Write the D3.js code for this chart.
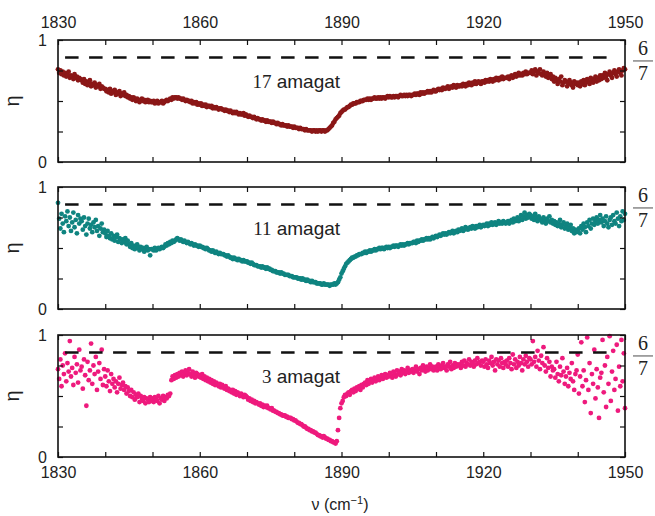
<!DOCTYPE html>
<html>
<head>
<meta charset="utf-8">
<script src="https://cdn.jsdelivr.net/npm/d3@7"></script>
<style>
  body { margin: 0; background: #fff; }
  svg { display: block; }
  .tick text { font-family: "Liberation Sans", Arial, sans-serif; font-size: 16px; fill: #222; }
  .domain { display: none; }
  .tick line { stroke: #111; stroke-width: 1.2; }
</style>
</head>
<body>
<svg width="655" height="516"></svg>
<script>
// spectra sampled every 0.25 cm-1 from 1830 to 1950, eta in hundredths
var nuStart = 1830, nuStep = 0.25;
var xTicks = [1830, 1860, 1890, 1920, 1950];
var yTicks = [0, 0.25, 0.5, 0.75, 1];
var plateau = 6 / 7;
var panelLabels = ["17", "11", "3"];
var panelColors = ["#8b1717", "#0f8480", "#ee1a7d"];

var eta17 = [
  76,73,75,72,74,71,73,70,72,74,69,71,70,68,72,69,70,67,69,68,
  67,65,68,64,66,63,65,67,62,64,63,65,61,63,62,64,60,62,61,60,
  60,58,59,57,60,56,58,57,59,55,57,56,58,54,56,55,57,54,55,53,
  54,52,53,51,53,52,50,52,51,49,51,52,50,51,49,50,51,49,50,49,
  49,50,48,49,50,48,49,49,50,48,49,50,51,50,51,52,51,53,52,53,
  53,52,53,52,52,51,52,51,50,51,50,50,49,50,48,49,48,49,47,48,
  47,48,46,47,46,47,45,46,46,45,46,44,45,44,45,44,43,44,44,43,
  43,42,43,42,42,41,42,41,40,41,40,41,40,39,40,39,39,40,38,39,
  38,37,38,37,37,36,37,36,35,36,35,35,34,35,34,34,33,34,33,33,
  33,32,33,32,32,31,32,31,31,30,31,30,30,30,29,30,29,29,29,28,
  29,28,28,28,27,28,27,27,27,26,27,26,26,26,26,25,26,26,25,26,
  25,26,26,25,26,26,25,26,26,27,28,29,30,32,33,35,36,37,38,40,
  41,42,43,43,44,45,45,46,47,47,48,48,48,49,49,49,50,50,50,51,
  51,51,52,51,52,51,52,52,53,52,52,53,52,53,52,53,53,52,53,54,
  53,54,53,53,54,53,54,54,53,54,55,54,54,55,54,55,54,55,55,54,
  55,55,56,55,56,56,55,57,56,57,56,57,57,58,57,58,57,58,59,58,
  58,59,60,59,60,59,61,60,60,61,62,60,61,62,61,63,62,61,63,62,
  62,63,62,64,63,62,64,63,65,64,63,65,64,66,64,65,66,65,64,66,
  66,65,67,66,67,66,68,67,66,68,67,69,68,67,69,68,70,68,69,69,
  69,70,68,70,71,69,70,72,70,71,73,71,72,71,73,72,74,72,73,73,
  73,75,72,74,76,71,74,73,76,72,71,74,72,70,73,69,71,72,68,70,
  66,69,67,64,68,66,70,63,65,67,66,62,64,67,65,63,61,66,64,65,
  63,65,62,66,64,67,63,65,68,66,64,69,67,65,68,70,66,69,67,71,
  68,71,69,73,70,67,72,74,71,69,73,75,72,70,74,76,73,71,75,77,
  76
];

var eta11 = [
  87,74,66,78,70,63,76,72,80,68,75,64,71,79,67,73,62,77,70,74,
  72,65,75,68,61,70,74,66,69,63,71,67,73,64,68,60,66,70,63,65,
  62,59,64,60,58,62,57,60,56,59,61,55,58,57,54,57,55,58,53,56,
  53,51,54,50,52,49,51,53,50,48,51,49,50,47,49,51,48,49,44,49,
  49,48,50,48,49,50,49,50,51,50,51,53,52,54,53,55,54,56,55,56,
  57,58,57,56,57,56,55,56,55,54,55,54,53,54,53,52,53,52,52,51,
  52,51,51,50,50,49,50,49,48,48,47,48,47,46,47,46,45,46,45,45,
  45,44,44,43,44,43,42,42,41,42,41,41,40,41,40,40,39,40,39,39,
  39,38,38,37,38,37,36,36,36,35,35,35,34,35,34,34,33,34,33,33,
  32,32,31,31,31,30,30,30,29,30,29,29,28,28,28,28,27,27,27,26,
  26,26,26,25,25,25,24,25,24,24,23,24,23,23,22,23,22,22,22,21,
  21,21,21,20,20,21,20,20,20,20,19,20,20,20,21,20,21,22,24,26,
  29,31,33,35,37,38,39,40,41,42,42,43,43,44,44,45,45,45,46,46,
  47,46,47,47,48,47,48,48,49,48,49,49,50,49,50,50,49,50,51,50,
  51,50,51,51,52,51,52,52,51,52,53,52,53,52,53,53,54,53,54,54,
  54,55,55,54,56,55,56,56,57,56,57,57,58,57,58,57,58,59,58,59,
  60,59,60,61,60,61,62,61,62,61,62,63,62,63,64,62,63,64,63,65,
  64,65,66,64,65,67,66,65,66,67,66,68,67,66,68,67,68,69,67,68,
  69,68,69,70,68,70,69,71,69,70,71,69,70,72,70,71,70,72,71,70,
  71,72,70,72,73,71,74,72,73,75,72,74,77,73,76,79,74,77,75,78,
  77,74,76,73,78,75,72,76,74,73,71,75,73,70,74,72,76,71,73,70,
  72,69,71,68,70,73,67,69,71,66,68,70,65,67,69,64,66,62,65,63,
  64,66,62,68,65,70,67,63,71,68,73,66,70,74,69,72,75,70,73,77,
  71,74,68,72,76,70,67,73,75,69,77,72,70,79,74,68,76,72,80,73,
  78
];

var eta3 = [
  72,64,80,58,75,68,85,62,77,70,95,66,73,59,82,69,76,61,88,71,
  74,56,80,67,42,78,63,71,93,60,75,68,82,55,70,77,64,88,59,72,
  66,58,71,62,54,68,60,64,57,62,53,60,65,56,59,61,55,58,52,57,
  54,50,55,49,53,47,51,49,52,45,50,48,46,49,44,48,47,45,49,46,
  48,45,49,47,46,50,44,48,47,50,46,49,48,51,50,52,63,66,64,67,
  65,68,66,69,67,70,66,68,71,67,69,72,68,66,70,67,65,69,68,66,
  67,65,68,64,66,63,65,62,64,61,63,60,62,59,61,60,58,60,57,59,
  57,56,58,55,56,54,55,53,55,52,54,51,53,52,50,52,51,49,51,50,
  49,47,48,46,47,45,46,44,45,44,43,44,42,43,41,42,41,42,40,40,
  39,40,38,38,37,37,36,36,35,35,34,34,34,33,33,32,32,32,31,31,
  30,30,29,28,28,27,27,26,25,25,24,23,23,22,22,21,21,20,20,19,
  18,18,17,17,16,17,16,15,15,14,14,13,13,12,12,11,13,22,32,40,
  44,46,49,51,50,52,53,51,54,55,53,56,54,57,56,58,55,59,57,60,
  61,59,63,60,62,64,61,63,65,62,64,66,63,65,67,64,66,68,65,67,
  66,69,67,65,70,68,66,71,68,70,67,72,69,71,68,70,73,69,71,70,
  72,69,71,74,70,72,68,73,71,75,72,70,74,71,73,76,72,74,71,73,
  74,71,76,73,72,75,77,73,74,71,76,74,78,72,75,73,77,74,76,75,
  76,73,78,75,79,74,77,76,80,75,78,77,74,79,76,81,77,78,75,79,
  78,74,80,76,73,79,77,82,75,78,71,80,76,79,74,81,77,73,78,76,
  79,74,81,77,72,84,76,80,73,78,75,82,77,71,80,76,83,78,74,81,
  80,76,95,78,82,74,87,79,72,83,77,90,75,70,81,73,78,66,74,71,
  72,65,78,68,62,74,67,81,70,60,66,73,58,69,64,77,62,55,68,71,
  84,52,66,94,58,71,45,63,98,55,77,36,68,60,88,48,72,57,32,65,
  69,96,53,75,41,82,60,99,46,70,87,55,64,92,38,74,58,96,62,85,
  40
];

var series = [eta17, eta11, eta3];
var panelTops = [40, 187, 335];
var panelH = 122;

var svg = d3.select("svg");
var x = d3.scaleLinear().domain([1830, 1950]).range([58, 625]);
var sans = '"Liberation Sans", Arial, sans-serif';
var serif = '"Liberation Serif", "Times New Roman", serif';

series.forEach(function(vals, i) {
  var top = panelTops[i];
  var y = d3.scaleLinear().domain([0, 1]).range([top + panelH, top]);
  var g = svg.append("g");

  var pts = vals.map(function(v, k) { return { nu: nuStart + k * nuStep, eta: v / 100 }; });

  // dots
  g.append("g").selectAll("circle")
    .data(pts)
    .enter().append("circle")
    .attr("cx", function(d) { return x(d.nu); })
    .attr("cy", function(d) { return y(d.eta); })
    .attr("r", 2.4)
    .attr("fill", panelColors[i]);

  // dashed 6/7 level
  g.append("line")
    .attr("x1", x(1831.5)).attr("x2", x(1947.6))
    .attr("y1", y(plateau)).attr("y2", y(plateau))
    .attr("stroke", "#111").attr("stroke-width", 2.6)
    .attr("stroke-dasharray", "13.5,10.5");

  // axes (inward ticks)
  var xTop = d3.axisTop(x).tickValues(d3.range(1830, 1951, 10)).tickSizeInner(-5).tickSizeOuter(0).tickPadding(12)
    .tickFormat(function(d) { return (i == 0 && xTicks.indexOf(d) > -1) ? d : ""; });
  var xBot = d3.axisBottom(x).tickValues(d3.range(1830, 1951, 10)).tickSizeInner(-5).tickSizeOuter(0).tickPadding(10)
    .tickFormat(function(d) { return (i == 2 && xTicks.indexOf(d) > -1) ? d : ""; });
  var yLeft = d3.axisLeft(y).tickValues(yTicks).tickSizeInner(-5).tickSizeOuter(0).tickPadding(11)
    .tickFormat(function(d) { return (d == 0 || d == 1) ? d : ""; });
  var yRight = d3.axisRight(y).tickValues(yTicks).tickSizeInner(-5).tickSizeOuter(0).tickFormat("");

  g.append("g").attr("transform", "translate(0," + top + ")").call(xTop);
  g.append("g").attr("transform", "translate(0," + (top + panelH) + ")").call(xBot);
  g.append("g").attr("transform", "translate(58,0)").call(yLeft);
  g.append("g").attr("transform", "translate(625,0)").call(yRight);

  g.append("rect")
    .attr("x", 58).attr("y", top).attr("width", 625 - 58).attr("height", panelH)
    .attr("fill", "none").attr("stroke", "#111").attr("stroke-width", 1.6);

  // eta label
  g.append("text")
    .attr("transform", "translate(19," + (top + panelH / 2) + ") rotate(-90)")
    .attr("text-anchor", "middle")
    .attr("font-family", sans).attr("font-size", 20).attr("fill", "#222")
    .text("η");

  // amagat label
  var lab = g.append("text")
    .attr("x", x(1889.7)).attr("y", top + 48)
    .attr("text-anchor", "end").attr("font-size", 19).attr("fill", "#222");
  lab.append("tspan").attr("font-family", serif).text(panelLabels[i]);
  lab.append("tspan").attr("font-family", sans).text(" amagat");

  // 6/7 fraction at right
  var fy = y(plateau) + 3.5;
  g.append("line").attr("x1", 633).attr("x2", 653).attr("y1", fy).attr("y2", fy)
    .attr("stroke", "#888").attr("stroke-width", 1.5);
  g.append("text").attr("x", 643).attr("y", fy - 6).attr("text-anchor", "middle")
    .attr("font-family", serif).attr("font-size", 20).attr("fill", "#222").text("6");
  g.append("text").attr("x", 643).attr("y", fy + 19).attr("text-anchor", "middle")
    .attr("font-family", serif).attr("font-size", 20).attr("fill", "#222").text("7");
});

// x axis title
var xt = svg.append("text")
  .attr("x", 340).attr("y", 510).attr("text-anchor", "middle")
  .attr("font-family", sans).attr("font-size", 16).attr("fill", "#222");
xt.append("tspan").text("ν (cm");
xt.append("tspan").attr("font-size", 11).attr("dy", -6).text("−1");
xt.append("tspan").attr("dy", 6).text(")");
</script>
</body>
</html>
